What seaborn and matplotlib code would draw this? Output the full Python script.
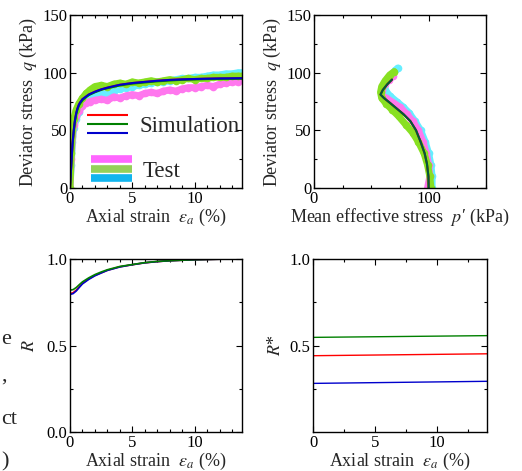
import numpy as np
import matplotlib
matplotlib.use("Agg")
import matplotlib.pyplot as plt
import seaborn as sns
from matplotlib.lines import Line2D
from matplotlib.legend_handler import HandlerBase
from matplotlib.ticker import MultipleLocator, FixedLocator

# ---- test data: q vs axial strain ----
eps_test = [0, 0.1, 0.2, 0.3, 0.5, 0.7, 1.0, 1.3, 1.6, 2.0, 2.5, 3.0, 3.5, 4.0, 4.5, 5.0,
            5.5, 6.0, 6.5, 7.0, 7.5, 8.0, 8.5, 9.0, 9.5, 10.0, 10.5, 11.0, 11.5, 12.0,
            12.5, 13.0, 13.5, 13.8]
q_magenta = [0, 25, 45, 55, 62, 67, 71, 74, 75, 76, 77, 76, 79, 78, 80, 81, 80, 82, 83, 82,
             84, 85, 84, 86, 87, 87, 88, 89, 88, 90, 91, 92, 92, 94]
q_green = [0, 30, 50, 60, 68, 73, 78, 82, 85, 88, 89, 88, 90, 91, 90, 92, 91, 92, 93, 92,
           93, 94, 93, 94, 95, 94, 95, 95, 96, 96, 96, 97, 97, 97]
q_cyan = [0, 20, 40, 52, 60, 66, 72, 76, 78, 80, 81, 82, 84, 86, 87, 88, 89, 90, 91, 92,
          92, 93, 94, 95, 95, 96, 96, 97, 98, 98, 99, 99, 100, 100]

# ---- simulation: q vs axial strain ----
eps_sim = [0, 0.1, 0.2, 0.3, 0.4, 0.5, 0.6, 0.7, 0.8, 1.0, 1.25, 1.5, 2.0, 2.5, 3.0, 4.0,
           5.0, 6.0, 7.0, 8.0, 9.0, 10.0, 11.0, 12.0, 13.0, 13.8]
q_sim_red = [0, 20, 38, 50, 59, 65, 69, 72, 74, 77, 79, 81, 83.5, 85.5, 87, 89.5, 91, 92,
             93, 93.7, 94.2, 94.5, 94.8, 95, 95.1, 95.2]
q_sim_green = [0, 19, 37, 49, 58, 64, 68, 71, 73, 76, 78.5, 80.5, 83, 85, 86.5, 89, 90.5,
               91.5, 92.5, 93.2, 93.8, 94.1, 94.4, 94.6, 94.7, 94.8]
q_sim_blue = q_sim_red

# ---- test data: stress path ----
p_magenta = [99, 101, 100, 98, 95, 91, 86, 81, 75, 69, 63, 59, 59, 62, 65, 69]
qp_magenta = [0, 10, 20, 30, 40, 50, 58, 64, 70, 74, 78, 80, 85, 90, 94, 97]
p_green = [102, 101, 99, 96, 91, 86, 80, 74, 68, 63, 59, 58, 59, 62, 66, 70]
qp_green = [0, 10, 20, 30, 40, 48, 55, 62, 68, 73, 78, 83, 88, 93, 98, 101]
p_cyan = [103, 103, 102, 100, 97, 93, 88, 83, 78, 72, 66, 62, 62, 66, 71, 73]
qp_cyan = [0, 10, 20, 30, 40, 50, 58, 65, 70, 75, 80, 85, 90, 96, 102, 104]

# ---- simulation: stress path ----
p_sim = [100, 99.8, 98.5, 96.5, 93, 89, 84, 78, 72, 66, 61, 58, 60, 64, 68]
qp_sim = [0, 10, 21, 30, 40, 50, 58, 64, 69, 74, 78, 81, 85, 90, 94]

# ---- R vs axial strain ----
eps_r = [0, 0.25, 0.5, 0.75, 1.0, 1.5, 2.0, 2.5, 3.0, 4.0, 5.0, 6.0, 7.0, 8.0, 10.0, 12.0, 13.8]
r_red = [0.80, 0.805, 0.82, 0.84, 0.86, 0.885, 0.905, 0.92, 0.935, 0.955, 0.967, 0.978,
         0.985, 0.99, 0.996, 0.999, 1.0]
r_green = [0.82, 0.823, 0.835, 0.852, 0.868, 0.891, 0.91, 0.925, 0.938, 0.957, 0.968,
           0.979, 0.986, 0.99, 0.996, 0.999, 1.0]
r_blue = [0.795, 0.80, 0.815, 0.836, 0.856, 0.882, 0.903, 0.919, 0.934, 0.954, 0.967,
          0.978, 0.985, 0.99, 0.996, 0.999, 1.0]

# ---- R* vs axial strain ----
eps_rs = [0, 14]
rs_red = [0.441, 0.452]
rs_green = [0.547, 0.557]
rs_blue = [0.281, 0.293]

c_mag, c_grn, c_cyn = "#ff77ee", "#88e022", "#66eeff"
leg_mag, leg_grn, leg_cyn = "#ff66ff", "#95d05a", "#11b5ee"
c_red, c_green, c_blue = "#ff0000", "#008000", "#0000cc"

sns.set_style("ticks")
plt.rcParams["font.family"] = ["Liberation Serif", "DejaVu Serif"]
plt.rcParams["mathtext.fontset"] = "stix"
plt.rcParams["axes.linewidth"] = 1.0

fig = plt.figure(figsize=(5.22, 4.71), dpi=100)
ax1 = fig.add_axes([70 / 522, 1 - 188 / 471, 172 / 522, 173 / 471])
ax2 = fig.add_axes([314 / 522, 1 - 188 / 471, 172 / 522, 173 / 471])
ax3 = fig.add_axes([70 / 522, 1 - 432 / 471, 172 / 522, 173 / 471])
ax4 = fig.add_axes([313 / 522, 1 - 432 / 471, 174 / 522, 173 / 471])

band = dict(lw=5, marker="o", ms=5.5, mew=0, solid_capstyle="round")

# q - strain
for y, c in [(q_cyan, c_cyn), (q_magenta, c_mag), (q_green, c_grn)]:
    sns.lineplot(x=eps_test, y=y, color=c, estimator=None, sort=False, ax=ax1, **band)
for y, c in [(q_sim_red, c_red), (q_sim_green, c_green), (q_sim_blue, c_blue)]:
    sns.lineplot(x=eps_sim, y=y, color=c, estimator=None, sort=False, ax=ax1, lw=1.5)

# stress path
for x, y, c in [(p_cyan, qp_cyan, c_cyn), (p_magenta, qp_magenta, c_mag), (p_green, qp_green, c_grn)]:
    sns.lineplot(x=x, y=y, color=c, estimator=None, sort=False, ax=ax2, **band)
for c, a in [(c_red, 1.0), (c_green, 1.0), (c_blue, 0.3)]:
    sns.lineplot(x=p_sim, y=qp_sim, color=c, alpha=a, estimator=None, sort=False, ax=ax2, lw=1.5)

# R
for y, c in [(r_red, c_red), (r_blue, c_blue), (r_green, c_green)]:
    sns.lineplot(x=eps_r, y=y, color=c, estimator=None, sort=False, ax=ax3, lw=1.2)

# R*
for y, c in [(rs_green, c_green), (rs_red, c_red), (rs_blue, c_blue)]:
    sns.lineplot(x=eps_rs, y=y, color=c, estimator=None, sort=False, ax=ax4, lw=1.0)

# axes formatting
for ax in (ax1, ax2, ax3, ax4):
    ax.tick_params(which="both", direction="in", top=True, right=True, labelsize=12,
                   width=0.8, pad=2, colors="black")
    ax.tick_params(which="major", length=4)
    ax.tick_params(which="minor", length=2.5)
    for s in ax.spines.values():
        s.set_color("black")

ax1.set_xlim(0, 13.8)
ax1.set_ylim(0, 150)
ax1.xaxis.set_major_locator(MultipleLocator(5))
ax1.xaxis.set_minor_locator(MultipleLocator(1))
ax1.yaxis.set_major_locator(MultipleLocator(50))
ax1.yaxis.set_minor_locator(MultipleLocator(25))

ax2.set_xlim(0, 150)
ax2.set_ylim(0, 150)
ax2.xaxis.set_major_locator(FixedLocator([0, 100]))
ax2.xaxis.set_minor_locator(MultipleLocator(25))
ax2.yaxis.set_major_locator(MultipleLocator(50))
ax2.yaxis.set_minor_locator(MultipleLocator(25))

ax3.set_xlim(0, 13.8)
ax3.set_ylim(0, 1)
ax3.xaxis.set_major_locator(MultipleLocator(5))
ax3.xaxis.set_minor_locator(MultipleLocator(1))
ax3.yaxis.set_major_locator(MultipleLocator(0.5))
ax3.yaxis.set_minor_locator(MultipleLocator(0.25))
ax3.yaxis.set_major_formatter(matplotlib.ticker.FormatStrFormatter("%.1f"))

ax4.set_xlim(0, 14)
ax4.set_ylim(0, 1)
ax4.xaxis.set_major_locator(MultipleLocator(5))
ax4.xaxis.set_minor_locator(MultipleLocator(2.5))
ax4.yaxis.set_major_locator(FixedLocator([0.5, 1.0]))
ax4.yaxis.set_minor_locator(FixedLocator([0.25, 0.75]))
ax4.yaxis.set_major_formatter(matplotlib.ticker.FormatStrFormatter("%.1f"))

strain_lbl = r"Axial strain  $\varepsilon_a$ (%)"
ax1.set_xlabel(strain_lbl, fontsize=13, labelpad=0)
ax1.set_ylabel(r"Deviator stress  $q$ (kPa)", fontsize=13, labelpad=2)
ax2.set_xlabel("Mean effective stress  $p$\u2032 (kPa)", fontsize=13, labelpad=0)
ax2.set_ylabel(r"Deviator stress  $q$ (kPa)", fontsize=13, labelpad=2)
ax3.set_xlabel(strain_lbl, fontsize=13, labelpad=0)
ax3.set_ylabel(r"$R$", fontsize=13, labelpad=6)
ax4.set_xlabel(strain_lbl, fontsize=13, labelpad=0)
ax4.set_ylabel(r"$R$*", fontsize=13, labelpad=4)


# legend with stacked samples
class StackHandler(HandlerBase):
    def __init__(self, gap):
        super().__init__()
        self.gap = gap

    def create_artists(self, legend, orig_handle, xdescent, ydescent, width, height,
                       fontsize, trans):
        arts = []
        n = len(orig_handle)
        for i, h in enumerate(orig_handle):
            yy = height / 2 - ydescent + ((n - 1) / 2 - i) * self.gap
            ln = Line2D([-xdescent, width - xdescent], [yy, yy], color=h.get_color(),
                        lw=h.get_linewidth(), solid_capstyle="butt")
            ln.set_transform(trans)
            arts.append(ln)
        return arts


sim_h = tuple(Line2D([], [], color=c, lw=1.5) for c in (c_red, c_green, c_blue))
test_h = tuple(Line2D([], [], color=c, lw=5.5) for c in (leg_mag, leg_grn, leg_cyn))

leg1 = ax1.legend([sim_h], ["Simulation"], handler_map={tuple: StackHandler(6.5)},
                  loc="center left", bbox_to_anchor=(0.099, 0.353), frameon=False,
                  fontsize=16.5, handlelength=1.8, handletextpad=0.5, borderpad=0,
                  borderaxespad=0)
ax1.add_artist(leg1)
ax1.legend([test_h], ["Test"], handler_map={tuple: StackHandler(6.8)},
           loc="center left", bbox_to_anchor=(0.122, 0.098), frameon=False,
           fontsize=16.5, handlelength=1.8, handletextpad=0.45, borderpad=0,
           borderaxespad=0)

# text fragments from the neighbouring page at the left edge
for y, s in [(340, "e"), (376, ","), (420, "ct"), (462, ")")]:
    fig.text(1 / 522, 1 - y / 471, s, ha="left", va="center", fontsize=16)

fig.savefig("out.png", dpi=100)
